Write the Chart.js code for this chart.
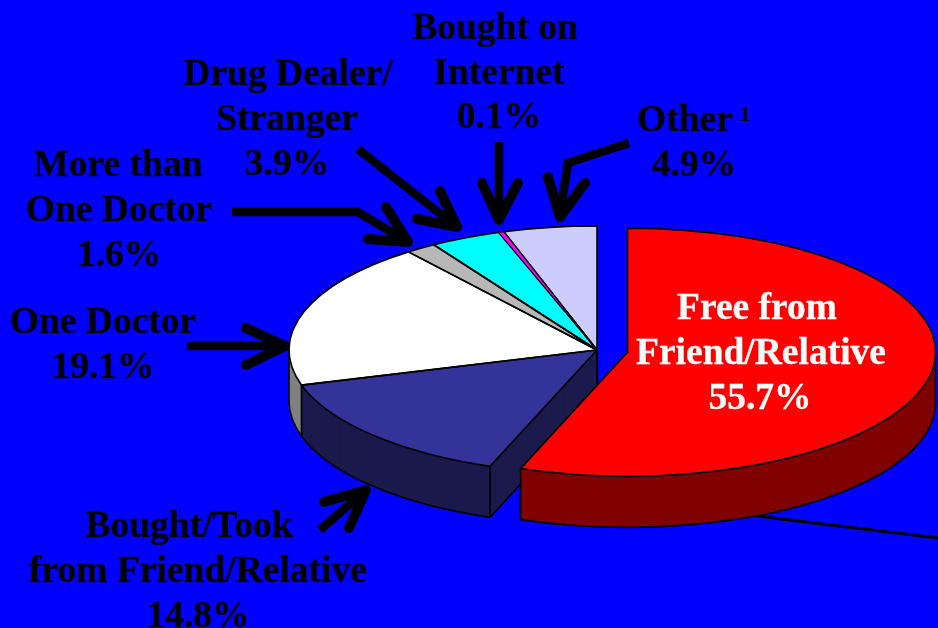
<!DOCTYPE html>
<html>
<head>
<meta charset="utf-8">
<style>html,body{margin:0;padding:0;background:#0000ff;overflow:hidden}canvas{display:block}</style>
<script src="https://cdn.jsdelivr.net/npm/chart.js@4/dist/chart.umd.min.js"></script>
</head>
<body>
<canvas id="c" width="938" height="628"></canvas>
<script>
const categories = ["Free from Friend/Relative","Bought/Took from Friend/Relative","One Doctor","More than One Doctor","Drug Dealer/Stranger","Bought on Internet","Other"];
const shares = [55.7,14.8,19.1,1.6,3.9,0.1,4.9];
const topColors = ["#ff0000","#333399","#ffffff","hatch","#00ffff","#ff00ff","#ccccff"];
const wallColors = ["#800000","#1a1a4d","#808080","#808080","#008080","#800080","#666680"];
const explodedSlice = 0;
const sliverSlice = 5;

const labelLines = [
  ["Bought on",495,39,"#000"],["Internet",499,84,"#000"],["0.1%",499,128,"#000"],
  ["Drug Dealer/",288,85,"#000"],["Stranger",287,130,"#000"],["3.9%",287,175,"#000"],
  ["More than",118,176,"#000"],["One Doctor",119,221,"#000"],["1.6%",119,266,"#000"],
  ["One Doctor",103,333,"#000"],["19.1%",103,378,"#000"],
  ["Bought/Took",189,537,"#000"],["from Friend/Relative",198,582,"#000"],["14.8%",198,627,"#000"],
  ["Other",685,131,"#000"],["4.9%",694,176,"#000"],
  ["Free from",757,319,"#fff"],["Friend/Relative",761,364,"#fff"],["55.7%",760,409,"#fff"]
];
const arrows = [
  {shaft:[[629,143],[568,163],[560,217]],barbs:[[548,177],[585,183]]},
  {shaft:[[499,142],[499,220]],barbs:[[482,183],[518,183]]},
  {shaft:[[358,149],[457,227]],barbs:[[440,191],[417,219]]},
  {shaft:[[232,212],[358,212],[408,242]],barbs:[[386,207],[368,239]]},
  {shaft:[[187,346],[285,346]],barbs:[[246,328],[246,365]]},
  {shaft:[[320,530],[366,490]],barbs:[[324,502],[349,528]]}
];
const leader = [[757,516],[938,538]];

const SQUASH = 0.403, DEPTH = 51, CENTER_Y = 350, EXPLODE_PX = 31, SLIVER_WIDEN = 0.012;

function hatchPattern(){
  const p = document.createElement('canvas'); p.width = 2; p.height = 2;
  const g = p.getContext('2d');
  g.fillStyle = '#ffffff'; g.fillRect(0,0,2,2);
  g.fillStyle = '#707070'; g.fillRect(0,0,1,1); g.fillRect(1,1,1,1);
  const pat = g.createPattern(p,'repeat');
  pat.setTransform(new DOMMatrix().scale(1,1/SQUASH));
  return pat;
}

function geom(chart,arc){
  const cy0 = (chart.chartArea.top+chart.chartArea.bottom)/2;
  return {x:arc.x,y:CENTER_Y+(arc.y-cy0)*SQUASH,r:arc.outerRadius,a:arc.startAngle,b:arc.endAngle};
}
function sector(ctx,g,dy){
  ctx.beginPath();
  ctx.moveTo(g.x,g.y+dy);
  ctx.ellipse(g.x,g.y+dy,g.r,g.r*SQUASH,0,g.a,g.b);
  ctx.closePath();
}
function pt(g,t,dy){return [g.x+g.r*Math.cos(t), g.y+g.r*SQUASH*Math.sin(t)+dy];}
function seg(ctx,p,q){ctx.beginPath();ctx.moveTo(p[0],p[1]);ctx.lineTo(q[0],q[1]);ctx.stroke();}

function drawWall(ctx,g,color){
  ctx.fillStyle = color;
  for(let d=DEPTH;d>=1;d--){ sector(ctx,g,d); ctx.fill(); }
  ctx.strokeStyle='#000'; ctx.lineWidth=1.6;
  const lo=Math.max(g.a,0), hi=Math.min(g.b,Math.PI);
  if(hi>lo){
    ctx.beginPath();
    ctx.ellipse(g.x,g.y+DEPTH,g.r,g.r*SQUASH,0,lo,hi);
    ctx.stroke();
    seg(ctx,pt(g,lo,0),pt(g,lo,DEPTH));
    seg(ctx,pt(g,hi,0),pt(g,hi,DEPTH));
  }
  if(Math.cos(g.a)<-1e-6){
    seg(ctx,[g.x,g.y],[g.x,g.y+DEPTH]);
    seg(ctx,[g.x,g.y+DEPTH],pt(g,g.a,DEPTH));
  }
}

const pie3d = {
  id:'pie3d',
  afterDatasetsUpdate(chart){
    const arc=chart.getDatasetMeta(0).data[explodedSlice];
    const mid=(arc.startAngle+arc.endAngle)/2;
    arc.x+=Math.cos(mid)*EXPLODE_PX;
    arc.y+=Math.sin(mid)*EXPLODE_PX;
  },
  beforeDatasetsDraw(chart){
    const ctx=chart.ctx, arcs=chart.getDatasetMeta(0).data;
    ctx.save();
    ctx.strokeStyle='#000'; ctx.lineWidth=3;
    seg(ctx,leader[0],leader[1]);
    for(let i=arcs.length-1;i>=0;i--){ drawWall(ctx,geom(chart,arcs[i]),wallColors[i]); }
    ctx.restore();
    const cy0=(chart.chartArea.top+chart.chartArea.bottom)/2;
    ctx.save();
    ctx.translate(0,CENTER_Y);
    ctx.scale(1,SQUASH);
    ctx.translate(0,-cy0);
  },
  afterDatasetsDraw(chart){
    const ctx=chart.ctx, arcs=chart.getDatasetMeta(0).data;
    ctx.restore();
    ctx.save();
    ctx.strokeStyle='#000'; ctx.lineWidth=1.6; ctx.lineJoin='round';
    arcs.forEach(a=>{ sector(ctx,geom(chart,a),0); ctx.stroke(); });
    const s=geom(chart,arcs[sliverSlice]);
    s.a-=SLIVER_WIDEN;
    sector(ctx,s,0);
    ctx.fillStyle=topColors[sliverSlice]; ctx.fill();
    ctx.lineWidth=1.2; ctx.stroke();
    ctx.restore();
  },
  afterDraw(chart){
    const ctx=chart.ctx;
    ctx.save();
    ctx.strokeStyle='#000';
    arrows.forEach(ar=>{
      ctx.lineWidth=8.5; ctx.lineCap='butt'; ctx.lineJoin='miter';
      ctx.beginPath();
      ar.shaft.forEach((p,i)=> i?ctx.lineTo(p[0],p[1]):ctx.moveTo(p[0],p[1]));
      ctx.stroke();
      const tip=ar.shaft[ar.shaft.length-1];
      ctx.lineWidth=10; ctx.lineCap='round'; ctx.lineJoin='round';
      ctx.beginPath();
      ctx.moveTo(ar.barbs[0][0],ar.barbs[0][1]);
      ctx.lineTo(tip[0],tip[1]);
      ctx.lineTo(ar.barbs[1][0],ar.barbs[1][1]);
      ctx.stroke();
    });
    ctx.textAlign='center'; ctx.textBaseline='alphabetic'; ctx.lineJoin='round'; ctx.lineWidth=0.3;
    ctx.font='bold 37.5px "Liberation Serif"';
    labelLines.forEach(l=>{ ctx.fillStyle=l[3]; ctx.strokeStyle=l[3]; ctx.fillText(l[0],l[1],l[2]); ctx.strokeText(l[0],l[1],l[2]); });
    ctx.font='bold 22px "Liberation Serif"'; ctx.fillStyle='#000';
    ctx.fillText("1",745,121);
    ctx.restore();
  }
};

new Chart(document.getElementById('c'),{
  type:'pie',
  data:{labels:categories,datasets:[{
    data:shares,
    backgroundColor:topColors.map(c=>c==='hatch'?hatchPattern():c),
    borderWidth:0,
    hoverOffset:0,
    clip:false
  }]},
  options:{
    responsive:false,animation:false,radius:308,
    layout:{padding:{left:256}},
    events:[],
    plugins:{legend:{display:false},tooltip:{enabled:false},title:{display:false}}
  },
  plugins:[pie3d]
});
</script>
</body>
</html>
